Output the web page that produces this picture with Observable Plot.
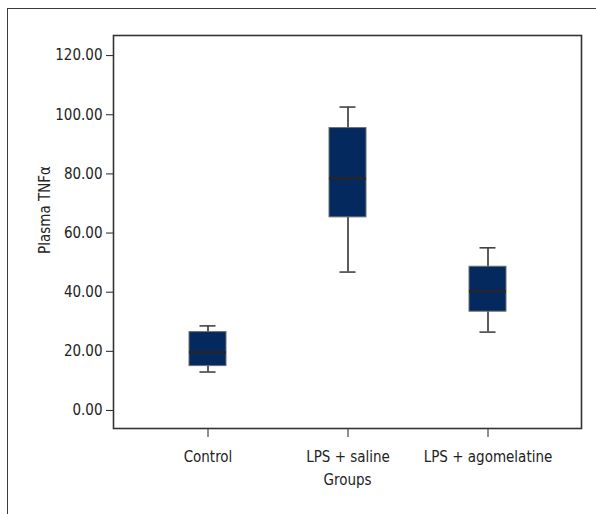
<!DOCTYPE html>
<html>
<head>
<meta charset="utf-8">
<script src="https://cdn.jsdelivr.net/npm/d3@7"></script>
<script src="https://cdn.jsdelivr.net/npm/@observablehq/plot@0.6"></script>
<style>
  html, body { margin: 0; padding: 0; background: #fff; overflow: hidden; }
  #wrap { position: relative; width: 596px; height: 514px; }
  #outer { position: absolute; left: 7px; top: 8px; width: 700px; height: 700px;
           border-left: 1px solid #3a3a3a; border-top: 1px solid #3a3a3a; pointer-events: none; }
</style>
</head>
<body>
<div id="wrap"><div id="outer"></div></div>
<script>
// Data
const groups  = ["Control", "LPS + saline", "LPS + agomelatine"];
const mins    = [13.0, 46.8, 26.5];
const q1s     = [15.0, 65.3, 33.4];
const medians = [19.7, 78.4, 40.3];
const q3s     = [26.5, 95.5, 48.6];
const maxs    = [28.6, 102.6, 55.0];
const yTicks  = [0, 20, 40, 60, 80, 100, 120];
const yLabel  = "Plasma TNFα";
const xLabel  = "Groups";

const data = groups.map((g, i) => ({
  group: g, min: mins[i], q1: q1s[i], median: medians[i], q3: q3s[i], max: maxs[i]
}));

const font = "'Liberation Sans Narrow', 'DejaVu Sans Condensed', 'Liberation Sans', sans-serif";

const chart = Plot.plot({
  width: 596,
  height: 514,
  marginLeft: 113,
  marginRight: 15,
  marginTop: 35,
  marginBottom: 86,
  style: { fontFamily: font, fontSize: "15px", color: "#222", background: "transparent" },
  x: {
    domain: groups,
    paddingInner: 0.738,
    paddingOuter: 0.53,
    tickSize: 9,
    tickPadding: 14,
    label: null
  },
  y: {
    domain: [-6.1, 126.8],
    ticks: yTicks,
    tickFormat: d3.format(".2f"),
    tickSize: 7,
    tickPadding: 4,
    label: null
  },
  marks: [
    Plot.ruleX(data, { x: "group", y1: "min", y2: "max", stroke: "#333", strokeWidth: 1.6 }),
    Plot.tickY(data, { x: "group", y: "min", insetLeft: 10.5, insetRight: 10.5, stroke: "#444", strokeWidth: 1.6 }),
    Plot.tickY(data, { x: "group", y: "max", insetLeft: 10.5, insetRight: 10.5, stroke: "#444", strokeWidth: 1.6 }),
    Plot.barY(data, { x: "group", y1: "q1", y2: "q3", fill: "#03295e", stroke: "#6e6e6e", strokeWidth: 1 }),
    Plot.tickY(data, { x: "group", y: "median", stroke: "#262626", strokeWidth: 2.5 }),
    Plot.frame({ stroke: "#333", strokeWidth: 1.6 }),
    Plot.text([yLabel], { frameAnchor: "left", textAnchor: "middle", text: d => d, rotate: -90,
                          dx: -68, dy: -22, fill: "#222", fontSize: 15 }),
    Plot.text([xLabel], { frameAnchor: "bottom", text: d => d, dy: 52, lineAnchor: "middle",
                          fill: "#222", fontSize: 15 })
  ]
});

document.getElementById("wrap").appendChild(chart);
</script>
</body>
</html>
